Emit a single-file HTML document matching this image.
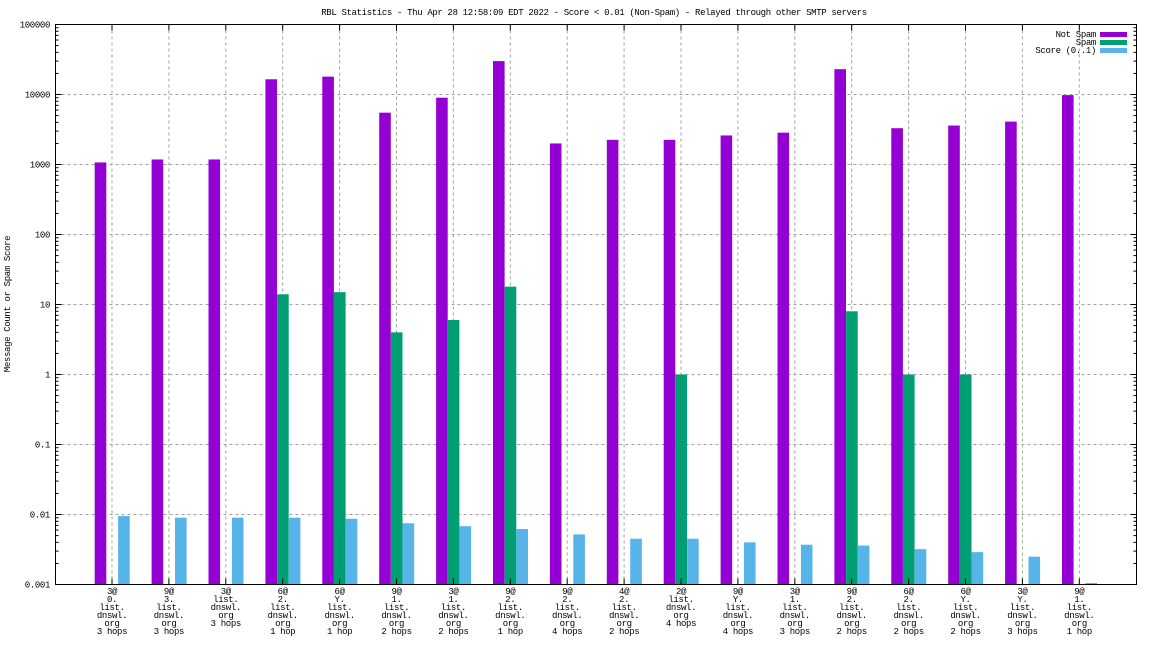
<!DOCTYPE html>
<html><head><meta charset="utf-8"><style>
body{margin:0;background:#fff}
svg text{font-family:"Liberation Mono","DejaVu Sans Mono",monospace;font-size:9px;letter-spacing:-0.35px;fill:#000}
</style></head><body>
<svg id="chart" width="1152" height="648" xmlns="http://www.w3.org/2000/svg">
<text x="594" y="15" text-anchor="middle">RBL Statistics - Thu Apr 28 12:58:09 EDT 2022 - Score &lt; 0.01 (Non-Spam) - Relayed through other SMTP servers</text>
<text transform="translate(10,304) rotate(-90)" text-anchor="middle">Message Count or Spam Score</text>
<g id="grid"></g><g id="bars"></g><g id="axes"></g><g id="labels"></g>
<g>
<text x="1096" y="37" text-anchor="end">Not Spam</text>
<rect x="1100" y="32" width="27" height="5" fill="#9400d3"/>
<text x="1096" y="45" text-anchor="end">Spam</text>
<rect x="1100" y="40" width="27" height="5" fill="#009e73"/>
<text x="1096" y="53" text-anchor="end">Score (0..1)</text>
<rect x="1100" y="48" width="27" height="5" fill="#56b4e9"/>
</g>
</svg>
<script>
const categories=[["3@","0.","list.","dnswl.","org","3 hops"],["9@","3.","list.","dnswl.","org","3 hops"],["3@","list.","dnswl.","org","3 hops"],["6@","2.","list.","dnswl.","org","1 hop"],["6@","Y.","list.","dnswl.","org","1 hop"],["9@","1.","list.","dnswl.","org","2 hops"],["3@","1.","list.","dnswl.","org","2 hops"],["9@","2.","list.","dnswl.","org","1 hop"],["9@","2.","list.","dnswl.","org","4 hops"],["4@","2.","list.","dnswl.","org","2 hops"],["2@","list.","dnswl.","org","4 hops"],["9@","Y.","list.","dnswl.","org","4 hops"],["3@","1.","list.","dnswl.","org","3 hops"],["9@","2.","list.","dnswl.","org","2 hops"],["6@","2.","list.","dnswl.","org","2 hops"],["6@","Y.","list.","dnswl.","org","2 hops"],["3@","Y.","list.","dnswl.","org","3 hops"],["9@","1.","list.","dnswl.","org","1 hop"]];
const notSpam=[1070,1180,1180,16500,18000,5500,9000,30000,2000,2250,2250,2600,2850,23000,3300,3600,4100,9800];
const spam=[0,0,0,14,15,4,6,18,0,0,1,0,0,8,1,1,0,0];
const score=[0.0095,0.009,0.009,0.009,0.0087,0.0075,0.0068,0.0062,0.0052,0.0045,0.0045,0.004,0.0037,0.0036,0.0032,0.0029,0.0025,0.00105];
const yTicks=[0.001,0.01,0.1,1,10,100,1000,10000,100000];
const yTickLabels=["0.001","0.01","0.1","1","10","100","1000","10000","100000"];
const NS="http://www.w3.org/2000/svg";
const L=55.5,R=1136.5,T=24.5,B=584.5;
function y(v){return B-(Math.log10(v)+3)/8*(B-T);}
function x(i){return 112+i*56.9;}
function mk(t,a,p){const e=document.createElementNS(NS,t);for(const k in a)e.setAttribute(k,a[k]);document.getElementById(p).appendChild(e);return e;}
yTicks.forEach((v,i)=>{
  const yy=y(v);
  if(i>0&&i<yTicks.length-1){const g=mk('line',{x1:L,x2:R,y1:yy,y2:yy,stroke:'#a0a0a0','stroke-dasharray':'3,3'},'grid');
  
  }
  const t=mk('text',{x:50,y:yy+3,'text-anchor':'end'},'axes');t.textContent=yTickLabels[i];
  
  
  mk('line',{x1:L,x2:L+6,y1:yy,y2:yy,stroke:'#000'},'axes');
  mk('line',{x1:R,x2:R-6,y1:yy,y2:yy,stroke:'#000'},'axes');
  if(i<yTicks.length-1)for(let m=2;m<10;m++){const ym=y(v*m);
    mk('line',{x1:L,x2:L+3,y1:ym,y2:ym,stroke:'#000'},'axes');
    mk('line',{x1:R,x2:R-3,y1:ym,y2:ym,stroke:'#000'},'axes');}
});
categories.forEach((c,i)=>{
  const cx=x(i);
  const g=mk('line',{x1:cx,x2:cx,y1:T,y2:B,stroke:'#a0a0a0','stroke-dasharray':'3,3'},'grid');
  
  
  mk('line',{x1:cx,x2:cx,y1:B,y2:B-6,stroke:'#000'},'axes');
  mk('line',{x1:cx,x2:cx,y1:T,y2:T+6,stroke:'#000'},'axes');
  const series=[[notSpam[i],'#9400d3',-17.3,'bar-not-spam'],[spam[i],'#009e73',-5.6,'bar-spam'],[score[i],'#56b4e9',6.1,'bar-score']];
  series.forEach(s=>{if(s[0]>0.001){const yy=y(s[0]);
    const r=mk('rect',{x:cx+s[2],y:yy,width:11.6,height:B-yy,fill:s[1]},'bars');
    
    }});
  const t=mk('text',{x:cx,y:594,'text-anchor':'middle'},'labels');
  
  
  c.forEach((ln,j)=>{const ts=mk('tspan',{x:cx,dy:j?8:0},'labels');t.appendChild(ts);ts.textContent=ln;});
});
mk('rect',{x:L,y:T,width:R-L,height:B-T,fill:'none',stroke:'#000'},'axes');
</script>
</body></html>
